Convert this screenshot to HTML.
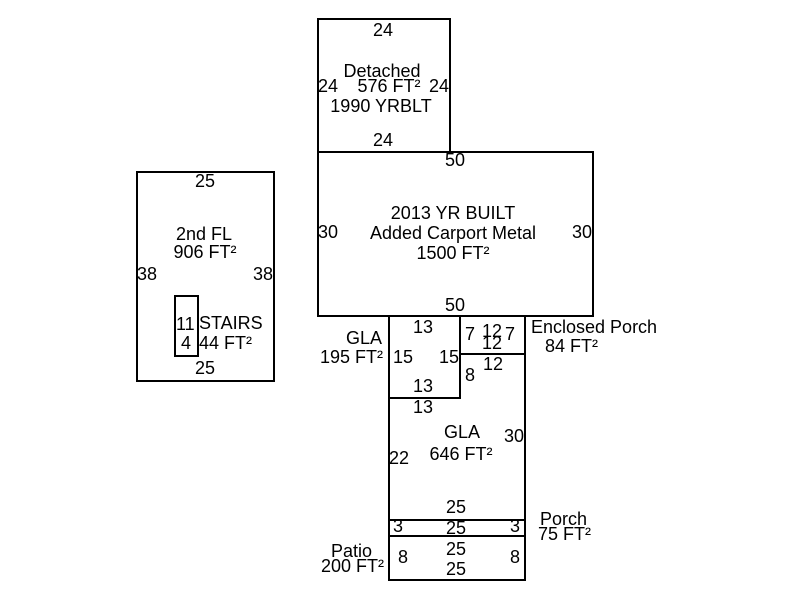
<!DOCTYPE html>
<html><head><meta charset="utf-8"><style>
html,body{margin:0;padding:0;background:#fff;}
svg{display:block;}
text{font-family:"Liberation Sans",Arial,sans-serif;font-size:18px;fill:#000;}
</style></head><body>
<svg width="800" height="600" viewBox="0 0 800 600" xmlns="http://www.w3.org/2000/svg">
<g fill="none" stroke="#000" stroke-width="2">
<rect x="318" y="19" width="132" height="133"/>
<rect x="318" y="152" width="275" height="164"/>
<rect x="389" y="316" width="136" height="264"/>
<polyline points="389,398 460,398 460,316"/>
<line x1="460" y1="354" x2="525" y2="354"/>
<line x1="389" y1="520" x2="525" y2="520"/>
<line x1="389" y1="536" x2="525" y2="536"/>
<rect x="137" y="172" width="137" height="209"/>
<rect x="175" y="296" width="23" height="60"/>
</g>
<g>
<!-- Detached -->
<text x="383" y="36" text-anchor="middle">24</text>
<text x="382" y="77" text-anchor="middle">Detached</text>
<text x="318" y="92">24</text>
<text x="389" y="92" text-anchor="middle">576 FT²</text>
<text x="429" y="92">24</text>
<text x="381" y="112" text-anchor="middle">1990 YRBLT</text>
<text x="383" y="146" text-anchor="middle">24</text>
<!-- Main -->
<text x="455" y="166" text-anchor="middle">50</text>
<text x="453" y="219" text-anchor="middle">2013 YR BUILT</text>
<text x="453" y="239" text-anchor="middle">Added Carport Metal</text>
<text x="453" y="259" text-anchor="middle">1500 FT²</text>
<text x="318" y="238">30</text>
<text x="572" y="238">30</text>
<text x="455" y="311" text-anchor="middle">50</text>
<!-- GLA 195 -->
<text x="423" y="333" text-anchor="middle">13</text>
<text x="382" y="344" text-anchor="end">GLA</text>
<text x="383" y="363" text-anchor="end">195 FT²</text>
<text x="393" y="363">15</text>
<text x="439" y="363">15</text>
<text x="423" y="392" text-anchor="middle">13</text>
<text x="423" y="413" text-anchor="middle">13</text>
<!-- Enclosed porch -->
<text x="465" y="340">7</text>
<text x="492" y="337" text-anchor="middle">12</text>
<text x="492" y="349" text-anchor="middle">12</text>
<text x="505" y="340">7</text>
<text x="493" y="370" text-anchor="middle">12</text>
<text x="465" y="381">8</text>
<text x="531" y="333">Enclosed Porch</text>
<text x="545" y="352">84 FT²</text>
<!-- GLA 646 -->
<text x="462" y="438" text-anchor="middle">GLA</text>
<text x="461" y="460" text-anchor="middle">646 FT²</text>
<text x="504" y="442">30</text>
<text x="389" y="464">22</text>
<text x="456" y="513" text-anchor="middle">25</text>
<!-- Porch -->
<text x="393" y="532">3</text>
<text x="456" y="534" text-anchor="middle">25</text>
<text x="510" y="532">3</text>
<text x="540" y="525">Porch</text>
<text x="538" y="540">75 FT²</text>
<!-- Patio -->
<text x="372" y="557" text-anchor="end">Patio</text>
<text x="384" y="572" text-anchor="end">200 FT²</text>
<text x="398" y="563">8</text>
<text x="456" y="555" text-anchor="middle">25</text>
<text x="510" y="563">8</text>
<text x="456" y="575" text-anchor="middle">25</text>
<!-- 2nd FL -->
<text x="205" y="187" text-anchor="middle">25</text>
<text x="204" y="240" text-anchor="middle">2nd FL</text>
<text x="205" y="258" text-anchor="middle">906 FT²</text>
<text x="137" y="280">38</text>
<text x="253" y="280">38</text>
<text x="176" y="330">11</text>
<text x="181" y="349">4</text>
<text x="199" y="329">STAIRS</text>
<text x="199" y="349">44 FT²</text>
<text x="205" y="374" text-anchor="middle">25</text>
</g>
</svg>
</body></html>
